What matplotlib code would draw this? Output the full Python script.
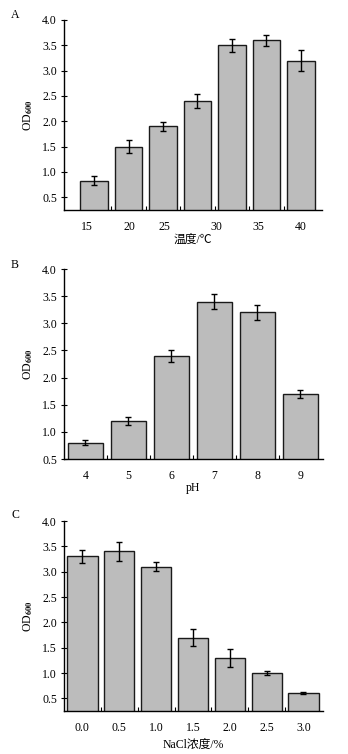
import matplotlib
matplotlib.use("Agg")
import matplotlib.pyplot as plt
import numpy as np

plt.rcParams['font.family'] = ['Liberation Serif', 'Noto Sans CJK SC']
plt.rcParams['mathtext.fontset'] = 'stix'

# Panel A: temperature
temp_labels = ["15", "20", "25", "30", "35", "40"]
temp_values = [0.83, 1.5, 1.9, 2.4, 3.5, 3.6, 3.2]
temp_errors = [0.085, 0.125, 0.09, 0.145, 0.13, 0.11, 0.21]

# Panel B: pH
ph_labels = ["4", "5", "6", "7", "8", "9"]
ph_values = [0.8, 1.2, 2.4, 3.4, 3.2, 1.7]
ph_errors = [0.05, 0.08, 0.11, 0.135, 0.14, 0.08]

# Panel C: NaCl
nacl_labels = ["0.0", "0.5", "1.0", "1.5", "2.0", "2.5", "3.0"]
nacl_values = [3.3, 3.4, 3.1, 1.7, 1.3, 1.0, 0.6]
nacl_errors = [0.135, 0.19, 0.09, 0.165, 0.175, 0.03, 0.02]

W, H = 348, 754
fig = plt.figure(figsize=(W / 100, H / 100), dpi=100)

def ax_at(left, top, right, bottom):
    return fig.add_axes([left / W, 1 - bottom / H, (right - left) / W, (bottom - top) / H])

FS = 8.5

panels = [
    dict(box=(64, 20, 322, 210), vals=temp_values, errs=temp_errors, labels=temp_labels,
         label_pos=[-0.2, 1.04, 2.03, 3.54, 4.77, 6.0], xlim=(-0.87, 6.61), ylim=(0.25, 4.0),
         width=0.8, xlabel="温度/℃", letter="A", letter_y=15, xlabel_y=240),
    dict(box=(64, 269, 323, 459), vals=ph_values, errs=ph_errors, labels=ph_labels,
         label_pos=None, xlim=(-0.5, 5.53), ylim=(0.5, 4.0),
         width=0.81, xlabel="pH", letter="B", letter_y=265, xlabel_y=488),
    dict(box=(64, 521, 323, 711), vals=nacl_values, errs=nacl_errors, labels=nacl_labels,
         label_pos=None, xlim=(-0.5, 6.53), ylim=(0.25, 4.0),
         width=0.82, xlabel="NaCl浓度/%", letter="C", letter_y=515, xlabel_y=745),
]

for p in panels:
    ax = ax_at(*p["box"])
    n = len(p["vals"])
    x = np.arange(n)
    ax.bar(x, p["vals"], width=p["width"], color="#bcbcbc", edgecolor="#1a1a1a",
           linewidth=1.0, zorder=2)
    ax.errorbar(x, p["vals"], yerr=p["errs"], fmt="none", ecolor="black",
                elinewidth=1.0, capsize=2, capthick=1.0, zorder=3)
    ax.set_xlim(*p["xlim"])
    ax.set_ylim(*p["ylim"])
    ax.set_yticks(np.arange(0.5, 4.01, 0.5))
    ax.set_yticklabels([f"{v:.1f}" for v in np.arange(0.5, 4.01, 0.5)])
    lp = p["label_pos"] if p["label_pos"] is not None else list(x)
    ax.set_xticks(lp)
    ax.set_xticklabels(p["labels"])
    ax.set_xticks(np.arange(0.5, n - 1, 1.0), minor=True)
    ax.tick_params(axis="x", which="major", length=0, pad=8, labelsize=FS)
    ax.tick_params(axis="x", which="minor", direction="in", length=3, width=0.8)
    ax.tick_params(axis="y", which="major", direction="inout", length=4, width=0.8,
                   labelsize=FS, pad=3)
    for s in ["top", "right"]:
        ax.spines[s].set_visible(False)
    for s in ["left", "bottom"]:
        ax.spines[s].set_linewidth(1.0)
    ax.set_ylabel("OD$_{\\mathbf{600}}$", fontsize=FS)
    ax.yaxis.set_label_coords(-29 / (p["box"][2] - p["box"][0]), 0.5)
    fig.text(15 / W, 1 - p["letter_y"] / H, p["letter"], fontsize=FS, ha="center", va="center")
    fig.text((p["box"][0] + p["box"][2]) / 2 / W, 1 - p["xlabel_y"] / H, p["xlabel"],
             fontsize=FS, ha="center", va="center")

fig.savefig("out.png", dpi=100)
